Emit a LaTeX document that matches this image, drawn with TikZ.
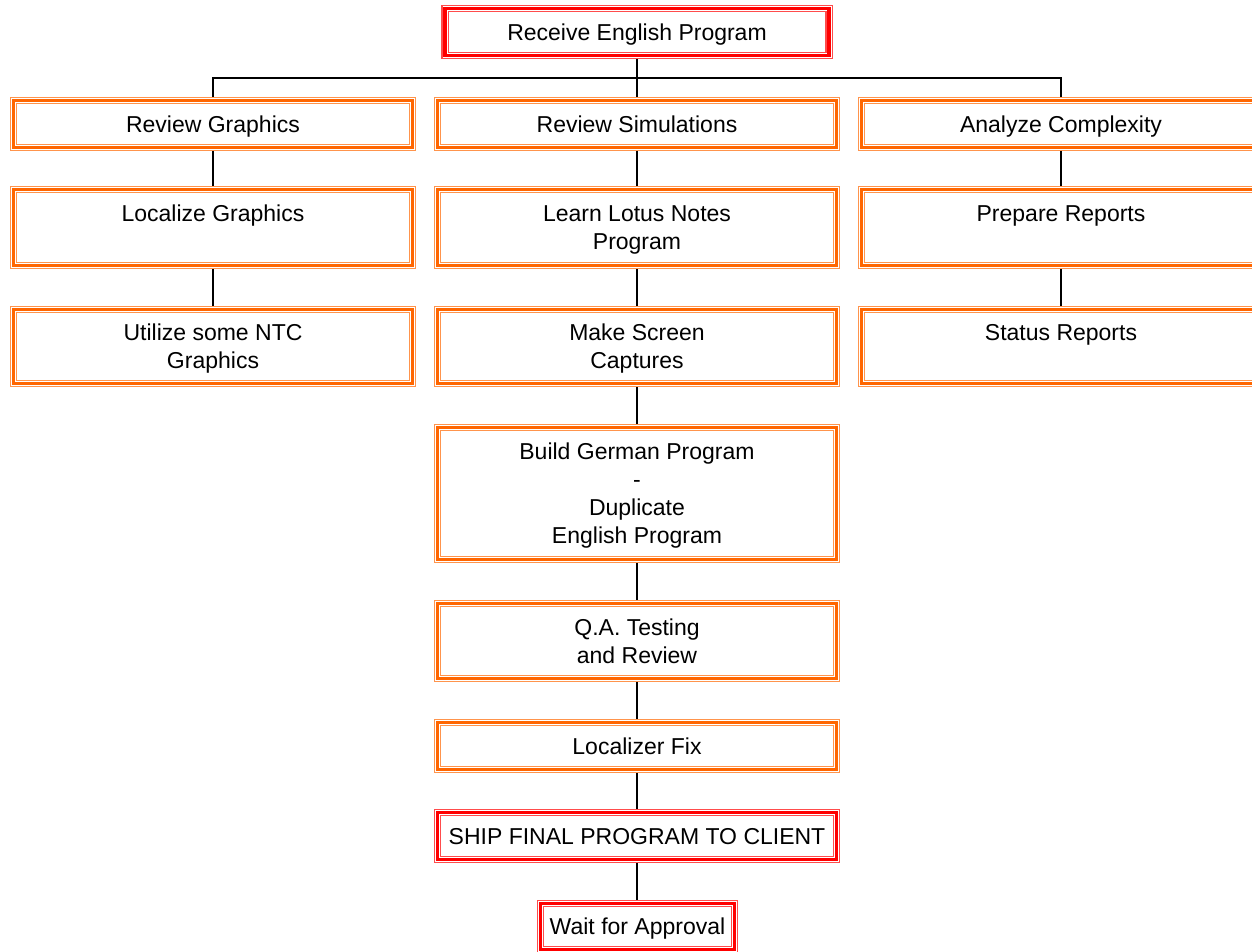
\documentclass[tikz,border=0pt]{standalone}
\usepackage{fontspec}
\setmainfont{Liberation Sans}
\definecolor{borange}{RGB}{255,102,0}
\definecolor{bred}{RGB}{255,0,0}
\newcommand{\ls}{\rule[-5.8pt]{0pt}{28pt}}
\begin{document}
\begin{tikzpicture}[x=1pt,y=-1pt,
  box/.style={rectangle, inner sep=0pt, outer sep=3.5pt, line width=3.2pt, draw=#1,
    preaction={draw=#1!70!white, line width=7.4pt},
    preaction={draw=white, line width=5pt},
    align=center, font=\fontsize{23}{28}\selectfont, text=black},
  obox/.style={box=borange, minimum width=399pt},
  rbox/.style={box=bred},
  link/.style={draw=black, line width=1.2pt}]
\useasboundingbox (0,0) rectangle (1252,952);
% nodes
\node[rbox, minimum width=384pt, minimum height=47pt] (recv) at (637,32) {\ls Receive English Program};
\node[obox, minimum height=47pt] (rg) at (213,124) {\ls Review Graphics};
\node[obox, minimum height=47pt] (rs) at (637,124) {\ls Review Simulations};
\node[obox, minimum height=47pt] (ac) at (1061,124) {\ls Analyze Complexity};
\node[obox, minimum height=76pt] (lg) at (213,227.5) {\ls Localize Graphics\\\ls};
\node[obox, minimum height=76pt] (ll) at (637,227.5) {\ls Learn Lotus Notes\\\ls Program};
\node[obox, minimum height=76pt] (pr) at (1061,227.5) {\ls Prepare Reports\\\ls};
\node[obox, minimum height=74pt] (ug) at (213,346.5) {\ls Utilize some NTC\\\ls Graphics};
\node[obox, minimum height=74pt] (ms) at (637,346.5) {\ls Make Screen\\\ls Captures};
\node[obox, minimum height=74pt] (sr) at (1061,346.5) {\ls Status Reports\\\ls};
\node[obox, minimum height=132pt] (bg) at (637,493.5) {\ls Build German Program\\\ls -\\\ls Duplicate\\\ls English Program};
\node[obox, minimum height=75pt] (qa) at (637,641) {\ls Q.A. Testing\\\ls and Review};
\node[obox, minimum height=47pt] (lf) at (637,746) {\ls Localizer Fix};
\node[rbox, minimum width=399pt, minimum height=47pt] (ship) at (637,836) {\ls SHIP FINAL PROGRAM TO CLIENT};
\node[rbox, minimum width=194pt, minimum height=46pt] (wait) at (637.5,926.5) {\ls Wait for Approval};
% connectors
\coordinate (j) at (637,78);
\draw[link] (recv.south) -- (rs.north);
\draw[link] (rg.north) -- (rg.north |- j) -- (ac.north |- j) -- (ac.north);
\draw[link] (rg) -- (lg);
\draw[link] (lg) -- (ug);
\draw[link] (rs) -- (ll);
\draw[link] (ll) -- (ms);
\draw[link] (ms) -- (bg);
\draw[link] (bg) -- (qa);
\draw[link] (qa) -- (lf);
\draw[link] (lf) -- (ship);
\draw[link] (ship.south) -- (ship.south |- wait.north);
\draw[link] (ac) -- (pr);
\draw[link] (pr) -- (sr);
\end{tikzpicture}
\end{document}
